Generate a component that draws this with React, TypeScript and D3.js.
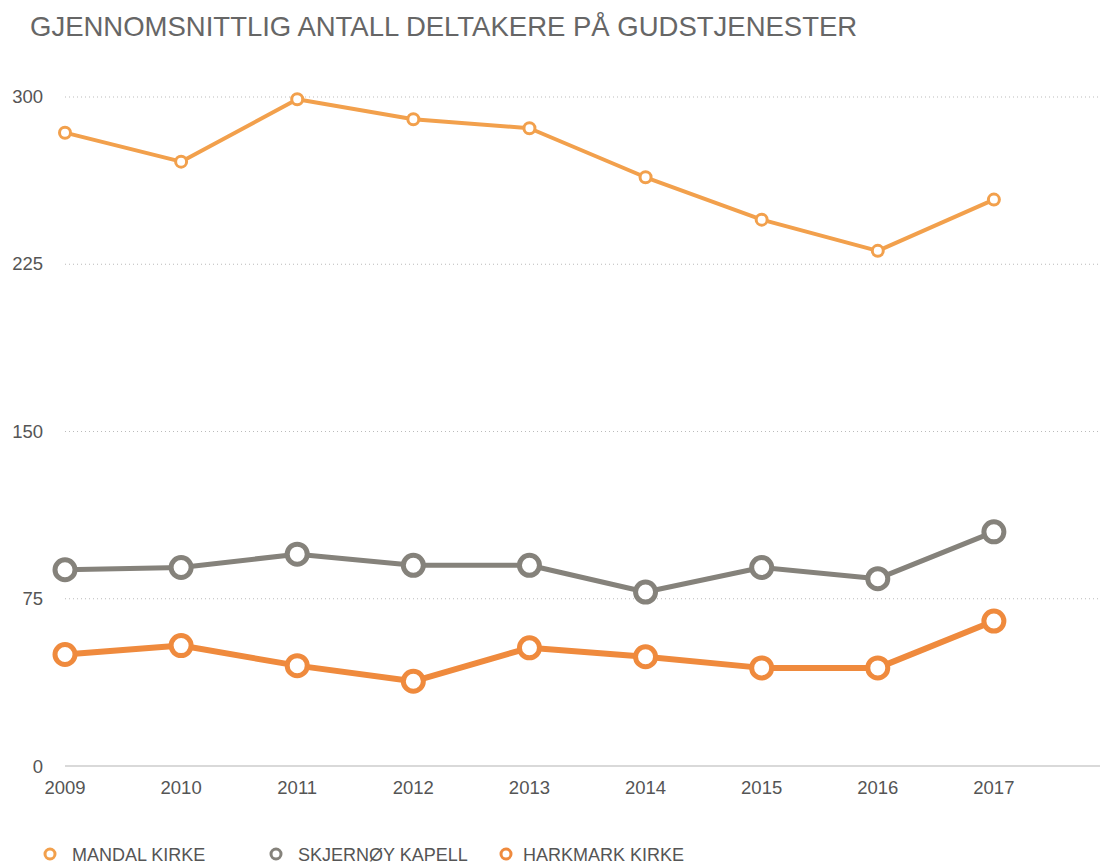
import React from 'react';
import * as d3 from 'd3';

const years = [2009, 2010, 2011, 2012, 2013, 2014, 2015, 2016, 2017];
const mandal = [284, 271, 299, 290, 286, 264, 245, 231, 254];
const skjernoy = [88, 89, 95, 90, 90, 78, 89, 84, 105];
const harkmark = [50, 54, 45, 38, 53, 49, 44, 44, 65];
const yTicks = [0, 75, 150, 225, 300];

const seriesList = [
  { name: 'MANDAL KIRKE', values: mandal, color: '#F2A04C', lw: 4, r: 5.5, sw: 3 },
  { name: 'SKJERNØY KAPELL', values: skjernoy, color: '#85827B', lw: 5, r: 10, sw: 5 },
  { name: 'HARKMARK KIRKE', values: harkmark, color: '#EF8A3D', lw: 6, r: 10, sw: 5 }
];

const legendX = [50, 276, 506];

export default function App() {
  const width = 1100,
    height = 866;

  const x = d3.scaleLinear().domain([2009, 2018]).range([65, 1110]);
  const y = d3.scaleLinear().domain([0, 300]).range([766, 97]);

  const line = d3
    .line<number>()
    .x((d, i) => x(years[i]))
    .y(d => y(d));

  const font = 'Helvetica, Arial, "Liberation Sans", sans-serif';

  return (
    <svg width={width} height={height} style={{ position: 'absolute', left: 0, top: 0 }} fontFamily={font}>
      <text x={30} y={36} fontSize={27.5} fill="#666">
        GJENNOMSNITTLIG ANTALL DELTAKERE PÅ GUDSTJENESTER
      </text>

      {yTicks.map(t => (
        <g key={t}>
          {t > 0 && (
            <line x1={65} x2={1100} y1={y(t)} y2={y(t)} stroke="#bbb" strokeWidth={1} strokeDasharray="1,3" />
          )}
          <text x={43} y={y(t)} dy={t === 0 ? 7 : 6} textAnchor="end" fontSize={18.5} fill="#555">
            {t}
          </text>
        </g>
      ))}
      <line x1={65} x2={1100} y1={y(0)} y2={y(0)} stroke="#ccc" strokeWidth={1.5} />

      {years.map(yr => (
        <text key={yr} x={x(yr)} y={794} textAnchor="middle" fontSize={18.5} fill="#555">
          {yr}
        </text>
      ))}

      {seriesList.map(s => (
        <g key={s.name}>
          <path d={line(s.values) || ''} fill="none" stroke={s.color} strokeWidth={s.lw} strokeLinejoin="round" />
          {s.values.map((v, i) => (
            <circle key={i} cx={x(years[i])} cy={y(v)} r={s.r} fill="#fff" stroke={s.color} strokeWidth={s.sw} />
          ))}
        </g>
      ))}

      {seriesList.map((s, i) => (
        <g key={s.name} transform={`translate(${legendX[i]},854)`}>
          <circle cx={0} cy={0} r={5} fill="#fff" stroke={s.color} strokeWidth={3} />
          <text x={i === 2 ? 17 : 22} y={7} fontSize={18} fill="#555">
            {s.name}
          </text>
        </g>
      ))}
    </svg>
  );
}
